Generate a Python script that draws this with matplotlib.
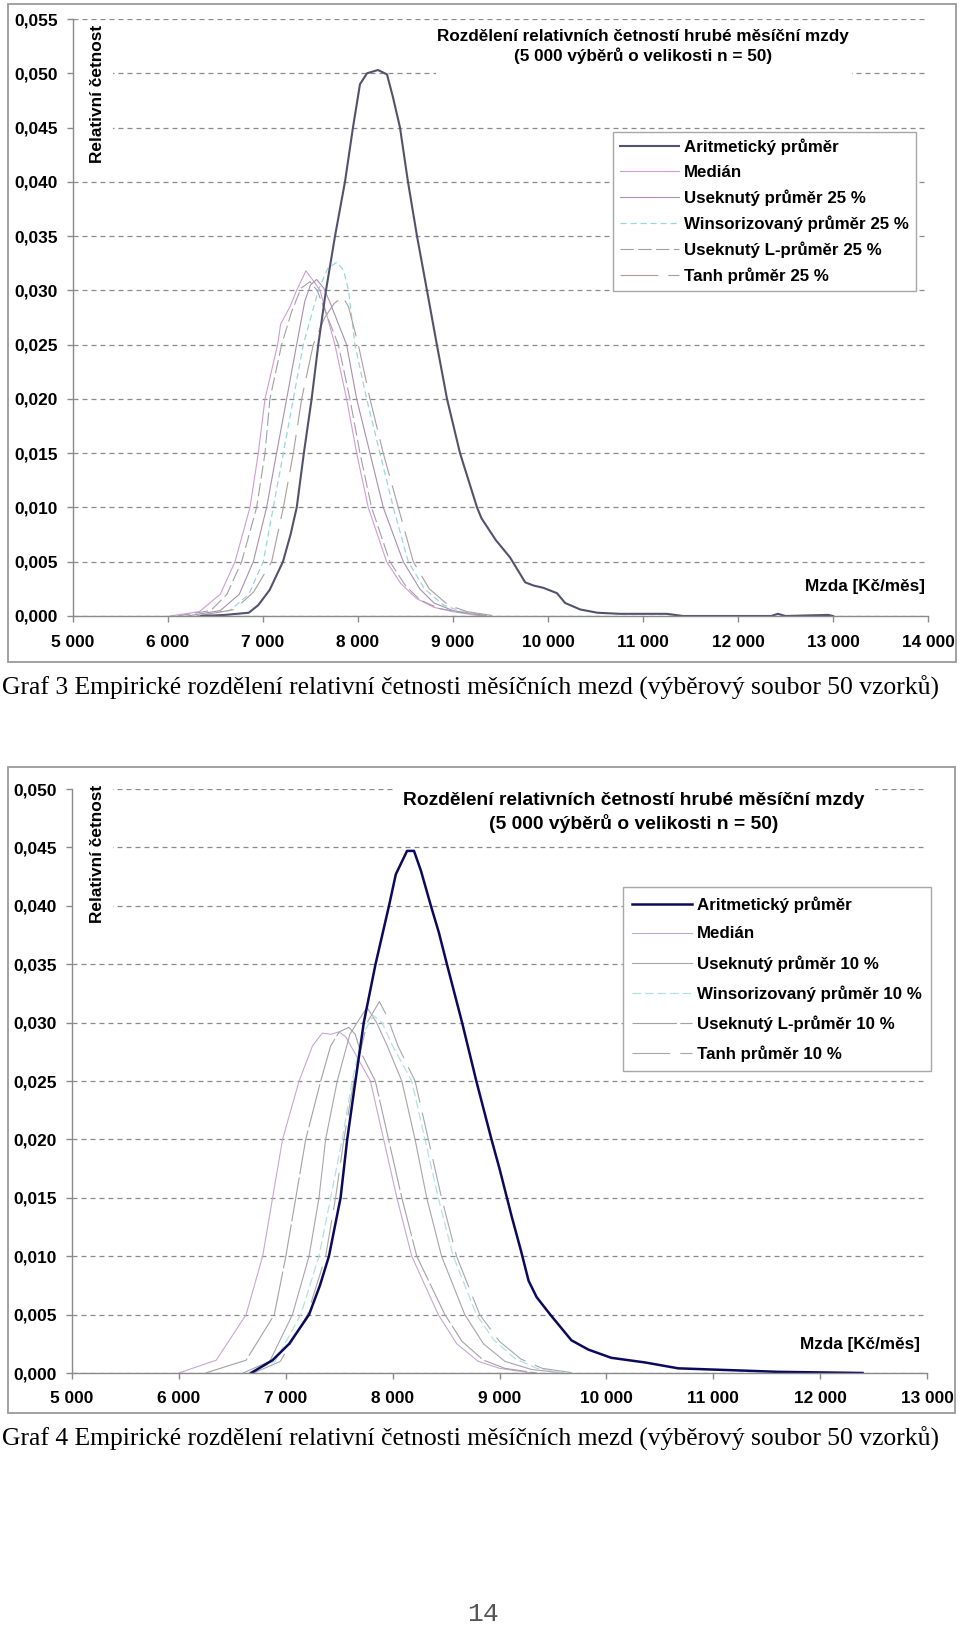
import matplotlib.pyplot as plt
from matplotlib.patches import Rectangle
from matplotlib.ticker import FuncFormatter, MultipleLocator

plt.rcParams['font.family'] = ['Liberation Sans', 'DejaVu Sans']
plt.rcParams['font.weight'] = 'bold'

W, H = 960, 1627

# ---- Graf 3 (25 %) ----
mean1_x = [6350, 6600, 6850, 6950, 7070, 7210, 7290, 7355, 7430, 7512, 7582, 7663, 7758, 7863,
           7947, 8021, 8095, 8210, 8305, 8368, 8442, 8526, 8621, 8726, 8830, 8937, 9074, 9253,
           9300, 9450, 9600, 9760, 9850, 9950, 10095, 10180, 10340, 10520, 10760, 11250, 11420,
           12350, 12420, 12500, 12950, 13000]
mean1_y = [0.0000, 0.0001, 0.0003, 0.0010, 0.0024, 0.0050, 0.0075, 0.0100, 0.0150, 0.0200,
           0.0250, 0.0300, 0.0350, 0.0400, 0.0450, 0.0490, 0.0500, 0.0503, 0.0499, 0.0478,
           0.0450, 0.0400, 0.0350, 0.0300, 0.0250, 0.0200, 0.0150, 0.0100, 0.0090, 0.0070,
           0.0054, 0.0031, 0.0028, 0.0026, 0.0021, 0.0012, 0.0006, 0.0003, 0.0002, 0.0002,
           0.0000, 0.0000, 0.0002, 0.0000, 0.0001, 0.0000]

median1_x = [6020, 6330, 6550, 6705, 6863, 6950, 7021, 7154, 7186, 7284, 7354, 7452, 7520,
             7600, 7757, 7880, 7986, 8108, 8301, 8450, 8617, 8800, 9000, 9300]
median1_y = [0.0000, 0.0004, 0.0020, 0.0050, 0.0100, 0.0150, 0.0200, 0.0250, 0.0269, 0.0285,
             0.0300, 0.0318, 0.0310, 0.0300, 0.0250, 0.0200, 0.0150, 0.0100, 0.0050, 0.0030,
             0.0016, 0.0008, 0.0004, 0.0000]

lmean1_x = [6100, 6450, 6620, 6775, 6933, 7021, 7073, 7196, 7300, 7400, 7494, 7570, 7793,
            7915, 8021, 8143, 8336, 8500, 8650, 8850, 9100, 9400]
lmean1_y = [0.0000, 0.0005, 0.0020, 0.0050, 0.0100, 0.0150, 0.0200, 0.0250, 0.0280, 0.0302,
            0.0308, 0.0300, 0.0250, 0.0200, 0.0150, 0.0100, 0.0050, 0.0028, 0.0015, 0.0007,
            0.0003, 0.0000]

trim1_x = [6200, 6550, 6750, 6898, 7038, 7143, 7249, 7354, 7440, 7500, 7565, 7640, 7700,
           7880, 7986, 8126, 8266, 8477, 8650, 8800, 9000, 9350]
trim1_y = [0.0000, 0.0005, 0.0020, 0.0050, 0.0100, 0.0150, 0.0200, 0.0250, 0.0290, 0.0305,
           0.0310, 0.0302, 0.0290, 0.0250, 0.0200, 0.0150, 0.0100, 0.0050, 0.0025, 0.0012,
           0.0005, 0.0000]

wins1_x = [6300, 6650, 6850, 7003, 7108, 7214, 7319, 7424, 7582, 7680, 7779, 7850, 7900,
           7968, 8091, 8231, 8372, 8529, 8700, 8900, 9100, 9400]
wins1_y = [0.0000, 0.0005, 0.0020, 0.0050, 0.0100, 0.0150, 0.0200, 0.0250, 0.0300, 0.0320,
           0.0326, 0.0318, 0.0300, 0.0250, 0.0200, 0.0150, 0.0100, 0.0050, 0.0025, 0.0010,
           0.0004, 0.0000]

tanh1_x = [6300, 6700, 6900, 7091, 7214, 7319, 7407, 7529, 7650, 7750, 7838, 7900, 8003,
           8126, 8266, 8424, 8582, 8750, 8950, 9150, 9450]
tanh1_y = [0.0000, 0.0006, 0.0022, 0.0050, 0.0100, 0.0150, 0.0200, 0.0250, 0.0275, 0.0288,
           0.0294, 0.0285, 0.0250, 0.0200, 0.0150, 0.0100, 0.0050, 0.0025, 0.0010, 0.0004,
           0.0000]

# ---- Graf 4 (10 %) ----
mean2_x = [6676, 6877, 7032, 7218, 7320, 7404, 7513, 7575, 7652, 7730, 7840, 7966, 8030,
           8135, 8200, 8265, 8358, 8433, 8508, 8650, 8783, 8925, 9000, 9114, 9200, 9272,
           9347, 9475, 9673, 9832, 10046, 10364, 10672, 10980, 11300, 11604, 12397]
mean2_y = [0.0000, 0.0011, 0.0025, 0.0050, 0.0075, 0.0100, 0.0150, 0.0200, 0.0250, 0.0300,
           0.0350, 0.0400, 0.0427, 0.0447, 0.0447, 0.0430, 0.0400, 0.0377, 0.0350, 0.0300,
           0.0250, 0.0200, 0.0175, 0.0134, 0.0105, 0.0079, 0.0065, 0.0050, 0.0028, 0.0020,
           0.0013, 0.0009, 0.0004, 0.0003, 0.0002, 0.0001, 0.0000]

median2_x = [6000, 6350, 6629, 6784, 6877, 6970, 7125, 7250, 7342, 7420, 7497, 7560, 7640,
             7792, 7916, 8040, 8179, 8427, 8600, 8800, 9000, 9300]
median2_y = [0.0000, 0.0011, 0.0050, 0.0100, 0.0150, 0.0200, 0.0250, 0.0280, 0.0291, 0.0290,
             0.0292, 0.0288, 0.0275, 0.0250, 0.0200, 0.0150, 0.0100, 0.0050, 0.0025, 0.0010,
             0.0004, 0.0000]

lmean2_x = [6250, 6630, 6893, 7001, 7094, 7187, 7327, 7420, 7500, 7590, 7650, 7700, 7838,
            7962, 8086, 8226, 8489, 8650, 8850, 9050, 9350]
lmean2_y = [0.0000, 0.0011, 0.0050, 0.0100, 0.0150, 0.0200, 0.0250, 0.0280, 0.0292, 0.0296,
            0.0290, 0.0275, 0.0250, 0.0200, 0.0150, 0.0100, 0.0050, 0.0027, 0.0011, 0.0004,
            0.0000]

trim2_x = [6600, 6850, 7063, 7218, 7311, 7373, 7482, 7600, 7668, 7761, 7850, 7950, 8086,
           8210, 8319, 8458, 8675, 8850, 9050, 9300, 9600]
trim2_y = [0.0000, 0.0010, 0.0050, 0.0100, 0.0150, 0.0200, 0.0250, 0.0290, 0.0300, 0.0313,
           0.0300, 0.0280, 0.0250, 0.0200, 0.0150, 0.0100, 0.0050, 0.0025, 0.0010, 0.0003,
           0.0000]

wins2_x = [6650, 6900, 7141, 7311, 7420, 7528, 7621, 7720, 7820, 7900, 8000, 8179, 8303,
           8427, 8567, 8784, 8950, 9150, 9350, 9600]
wins2_y = [0.0000, 0.0010, 0.0050, 0.0100, 0.0150, 0.0200, 0.0250, 0.0290, 0.0306, 0.0300,
           0.0280, 0.0250, 0.0200, 0.0150, 0.0100, 0.0050, 0.0028, 0.0012, 0.0004, 0.0000]

tanh2_x = [6700, 6950, 7203, 7373, 7466, 7544, 7637, 7761, 7876, 7950, 8050, 8210, 8334,
           8458, 8598, 8815, 9000, 9200, 9400, 9700]
tanh2_y = [0.0000, 0.0010, 0.0050, 0.0100, 0.0150, 0.0200, 0.0250, 0.0300, 0.0318, 0.0305,
           0.0280, 0.0250, 0.0200, 0.0150, 0.0100, 0.0050, 0.0027, 0.0012, 0.0004, 0.0000]

labels1 = ['Aritmetický průměr', 'Medián', 'Useknutý průměr 25 %',
           'Winsorizovaný průměr 25 %', 'Useknutý L-průměr 25 %', 'Tanh průměr 25 %']
labels2 = ['Aritmetický průměr', 'Medián', 'Useknutý průměr 10 %',
           'Winsorizovaný průměr 10 %', 'Useknutý L-průměr 10 %', 'Tanh průměr 10 %']

title_text = 'Rozdělení relativních četností hrubé měsíční mzdy\n(5 000 výběrů o velikosti n = 50)'
caption3 = 'Graf 3 Empirické rozdělení relativní četnosti měsíčních mezd (výběrový soubor 50 vzorků)'
caption4 = 'Graf 4 Empirické rozdělení relativní četnosti měsíčních mezd (výběrový soubor 50 vzorků)'

grey = '#8a8a8a'


def fx(px):
    return px / W


def fy(py):
    return 1 - py / H


def space_thousands(v, pos):
    return '{:,.0f}'.format(v).replace(',', ' ')


def comma_dec(v, pos):
    return '{:.3f}'.format(v).replace('.', ',')


fig = plt.figure(figsize=(W / 100, H / 100), dpi=100)


def chart(box, xmax, ymax, series, styles, labels, leg_xy, leg_opts, title_xy, title_box,
          title_size, ylab_y, ylab_box, mzda_xy, frame, xpad):
    left, right, top, bottom = box
    ax = fig.add_axes([fx(left), fy(bottom), (right - left) / W, (bottom - top) / H])
    ax.set_xlim(5000, xmax)
    ax.set_ylim(0, ymax)
    ax.xaxis.set_major_locator(MultipleLocator(1000))
    ax.yaxis.set_major_locator(MultipleLocator(0.005))
    ax.xaxis.set_major_formatter(FuncFormatter(space_thousands))
    ax.yaxis.set_major_formatter(FuncFormatter(comma_dec))
    for s in ['top', 'right']:
        ax.spines[s].set_visible(False)
    for s in ['left', 'bottom']:
        ax.spines[s].set_color(grey)
        ax.spines[s].set_linewidth(1.0)
        ax.spines[s].set_zorder(6)
    ax.tick_params(axis='both', direction='out', length=4, width=1, color=grey,
                   labelsize=12.4)
    ax.tick_params(axis='x', pad=xpad)
    ax.tick_params(axis='y', pad=7)
    ax.set_axisbelow(True)
    ax.yaxis.grid(True, color=grey, linewidth=0.9, linestyle=(0, (4, 3.2)))
    ax.patch.set_alpha(0)

    handles = []
    for (xs, ys), st in zip(series, styles):
        ln, = ax.plot(xs, ys, **st)
        handles.append(ln)

    # white boxes hiding the grid behind title and axis label (as in the Excel chart)
    for (x0, y0, x1, y1) in [title_box, ylab_box]:
        ax.add_patch(Rectangle((fx(x0), fy(y1)), (x1 - x0) / W, (y1 - y0) / H,
                               transform=fig.transFigure, facecolor='white',
                               edgecolor='none', zorder=1, clip_on=False))

    leg = ax.legend(handles, labels, loc='upper left', bbox_to_anchor=(fx(leg_xy[0]), fy(leg_xy[1])),
                    bbox_transform=fig.transFigure, borderaxespad=0, fancybox=False,
                    edgecolor='#a8a8a8', framealpha=1, fontsize=12.2, handlelength=3.5,
                    handletextpad=0.3, **leg_opts)
    leg.get_frame().set_linewidth(1.0)

    fig.text(fx(title_xy[0]), fy(title_xy[1]), title_text, ha='center', va='center',
             fontsize=title_size, linespacing=1.32)
    fig.text(fx(97), fy(ylab_y), 'Relativní četnost', rotation=90, ha='center', va='top',
             fontsize=12.4)
    fig.text(fx(mzda_xy[0]), fy(mzda_xy[1]), 'Mzda [Kč/měs]', ha='right', va='center',
             fontsize=12.3)
    fig.patches.append(Rectangle((fx(frame[0]), fy(frame[3])), (frame[2] - frame[0]) / W,
                                 (frame[3] - frame[1]) / H, transform=fig.transFigure,
                                 facecolor='none', edgecolor='#9a9a9a', linewidth=1.3))
    return ax


styles1 = [
    dict(color='#52526e', lw=1.5, zorder=4),
    dict(color='#d49ad4', lw=0.8, zorder=3),
    dict(color='#a890b0', lw=0.8, zorder=3),
    dict(color='#98d8dc', lw=0.9, zorder=3, linestyle=(0, (5, 3))),
    dict(color='#a0a0a8', lw=0.8, zorder=3, linestyle=(0, (12, 4))),
    dict(color='#b09c9c', lw=0.8, zorder=3, linestyle=(0, (34, 9))),
]
series1 = [(mean1_x, mean1_y), (median1_x, median1_y), (trim1_x, trim1_y),
           (wins1_x, wins1_y), (lmean1_x, lmean1_y), (tanh1_x, tanh1_y)]

chart((73, 928, 19, 616), 14000, 0.055, series1, styles1, labels1,
      (613, 132), dict(labelspacing=0.56, borderpad=0.4),
      (643, 46.5), (436, 22, 852, 77), 12.3,
      25, (73, 22, 113, 165), (925, 587), (8, 4, 956, 662), 10)

styles2 = [
    dict(color='#0a0a5c', lw=1.8, zorder=4),
    dict(color='#c8a6d4', lw=0.8, zorder=3),
    dict(color='#a8a4ac', lw=0.8, zorder=3),
    dict(color='#b4e2e2', lw=0.9, zorder=3, linestyle=(0, (7, 3))),
    dict(color='#a4a0a8', lw=0.8, zorder=3, linestyle=(0, (40, 3))),
    dict(color='#aaa6aa', lw=0.8, zorder=3, linestyle=(0, (34, 9))),
]
series2 = [(mean2_x, mean2_y), (median2_x, median2_y), (trim2_x, trim2_y),
           (wins2_x, wins2_y), (lmean2_x, lmean2_y), (tanh2_x, tanh2_y)]

chart((72, 927, 789, 1373), 13000, 0.050, series2, styles2, labels2,
      (623, 887), dict(labelspacing=0.8, borderpad=0.55),
      (634, 812.5), (395, 782, 875, 842), 13.9,
      785, (72, 780, 113, 932), (920, 1344), (8, 767, 955, 1413), 9)

# captions under the charts (Times-like font), fitted to the page width
cap_texts = []
for txt, y in [(caption3, 688), (caption4, 1439)]:
    t = fig.text(fx(2), fy(y), txt, ha='left', va='center', fontsize=17,
                 family='Liberation Serif', weight='normal')
    cap_texts.append(t)
fig.canvas.draw()
for t in cap_texts:
    w = t.get_window_extent().width
    t.set_fontsize(17 * 938 / w)

fig.text(fx(483), fy(1614), '14', ha='center', va='center', fontsize=19,
         family='Liberation Mono', weight='normal', color='#555555')

fig.savefig('out.png', dpi=100)
